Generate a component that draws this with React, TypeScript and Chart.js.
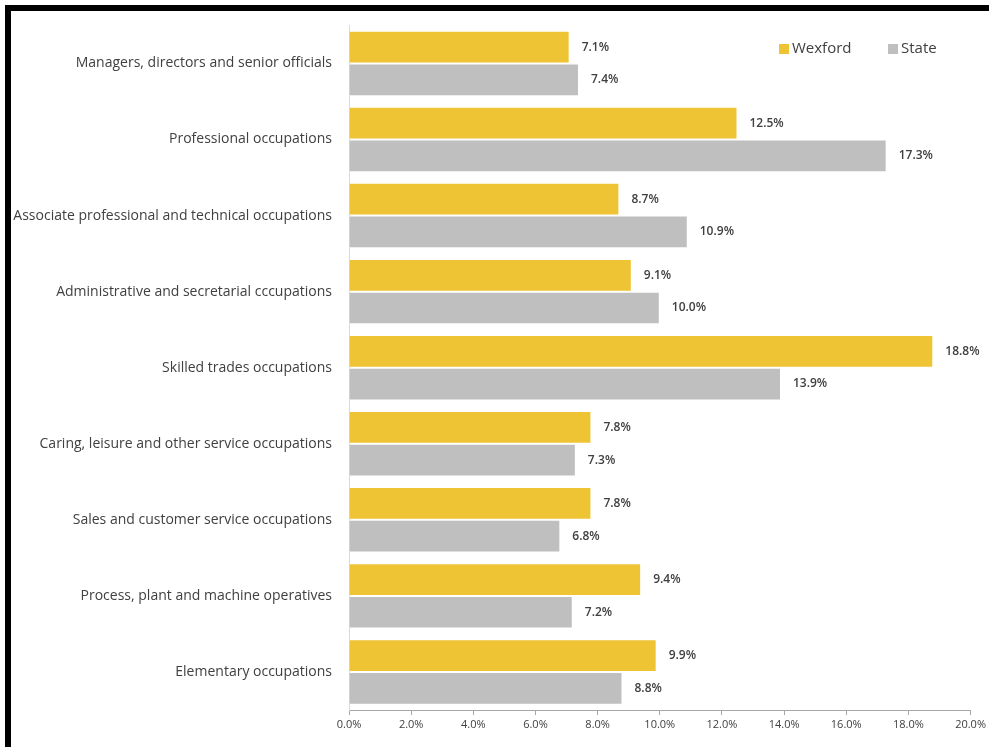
import React, { useEffect, useRef } from "react";
import { Chart, registerables } from "chart.js";

Chart.register(...registerables);

const categories = [
  "Managers, directors and senior officials",
  "Professional occupations",
  "Associate professional and technical occupations",
  "Administrative and secretarial cccupations",
  "Skilled trades occupations",
  "Caring, leisure and other service occupations",
  "Sales and customer service occupations",
  "Process, plant and machine operatives",
  "Elementary occupations",
];
const wexford = [7.1, 12.5, 8.7, 9.1, 18.8, 7.8, 7.8, 9.4, 9.9];
const state = [7.4, 17.3, 10.9, 10.0, 13.9, 7.3, 6.8, 7.2, 8.8];
const seriesNames = ["Wexford", "State"];
const seriesColors = ["#EFC434", "#BFBFBF"];

const FONT = "'Open Sans', sans-serif";
const TEXT = "#404040";

const valueLabels = {
  id: "valueLabels",
  afterDatasetsDraw(chart: any) {
    const ctx = chart.ctx;
    ctx.save();
    ctx.font = `600 12px ${FONT}`;
    ctx.fillStyle = TEXT;
    ctx.textAlign = "left";
    ctx.textBaseline = "middle";
    chart.data.datasets.forEach((ds: any, di: number) => {
      const meta = chart.getDatasetMeta(di);
      meta.data.forEach((bar: any, i: number) => {
        ctx.fillText(ds.data[i].toFixed(1) + "%", bar.x + 12, bar.y);
      });
    });
    ctx.restore();
  },
};

const customLegend = {
  id: "customLegend",
  afterDraw(chart: any) {
    const ctx = chart.ctx;
    ctx.save();
    ctx.font = `15px ${FONT}`;
    ctx.textBaseline = "middle";
    ctx.textAlign = "left";
    const xs = [779, 888];
    const y = 49;
    seriesNames.forEach((name, i) => {
      ctx.fillStyle = seriesColors[i];
      ctx.fillRect(xs[i], y - 5, 10, 10);
      ctx.fillStyle = TEXT;
      ctx.fillText(name, xs[i] + 13, y);
    });
    ctx.restore();
  },
};

export default function App() {
  const ref = useRef<HTMLCanvasElement>(null);
  useEffect(() => {
    if (!ref.current) return;
    const chart = new Chart(ref.current, {
      type: "bar",
      data: {
        labels: categories,
        datasets: [
          {
            label: seriesNames[0],
            data: wexford,
            backgroundColor: seriesColors[0],
            borderColor: "#ffffff",
            borderWidth: 1,
            categoryPercentage: 0.86,
            barPercentage: 1,
          },
          {
            label: seriesNames[1],
            data: state,
            backgroundColor: seriesColors[1],
            borderColor: "#ffffff",
            borderWidth: 1,
            categoryPercentage: 0.86,
            barPercentage: 1,
          },
        ],
      },
      options: {
        indexAxis: "y",
        animation: false,
        responsive: false,
        maintainAspectRatio: false,
        layout: { padding: { left: 0, right: 17, top: 25, bottom: 0 } },
        plugins: {
          legend: { display: false },
          tooltip: { enabled: false },
        },
        scales: {
          x: {
            min: 0,
            max: 20,
            ticks: {
              stepSize: 2,
              color: TEXT,
              font: { family: FONT, size: 11 },
              padding: 3,
              callback: (v: any) => Number(v).toFixed(1) + "%",
            },
            grid: {
              drawOnChartArea: false,
              drawTicks: true,
              tickLength: 5,
              color: "#A6A6A6",
            },
            border: { display: true, color: "#A6A6A6" },
            afterFit: (scale: any) => {
              scale.height = 747 - 710;
            },
          },
          y: {
            ticks: {
              color: TEXT,
              font: { family: FONT, size: 14 },
              padding: 17,
            },
            grid: { drawOnChartArea: false, drawTicks: false, color: "#D9D9D9" },
            border: { display: true, color: "#D9D9D9" },
            afterFit: (scale: any) => {
              scale.width = 349;
            },
          },
        },
      },
      plugins: [valueLabels, customLegend],
    });
    return () => chart.destroy();
  }, []);

  return (
    <div style={{ position: "absolute", left: 0, top: 0, width: 989, height: 747, background: "#fff", overflow: "hidden" }}>
      <canvas ref={ref} width={989} height={747} style={{ position: "absolute", left: 0, top: 0 }} />
      <div
        style={{
          position: "absolute",
          left: 5,
          top: 5,
          width: 984,
          height: 742,
          borderTop: "6px solid #000",
          borderLeft: "6px solid #000",
          boxSizing: "border-box",
          pointerEvents: "none",
        }}
      />
    </div>
  );
}
